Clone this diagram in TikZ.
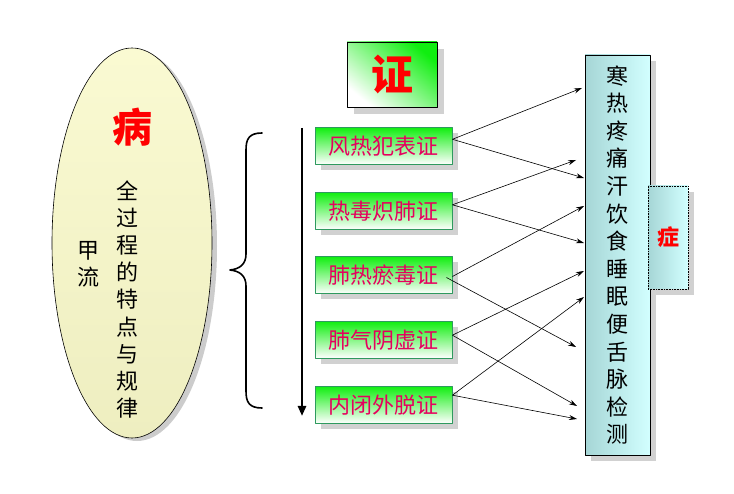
\documentclass[tikz,border=0pt]{standalone}
\usepackage{fontspec}
\setmainfont{Noto Sans CJK SC}
\usetikzlibrary{arrows.meta,shapes.geometric,shadows}

\definecolor{zgreen}{HTML}{10EE10}
\definecolor{boxedge}{HTML}{2E9A5E}
\definecolor{syntext}{HTML}{E6005E}
\definecolor{zred}{HTML}{FF0000}
\definecolor{cyandk}{HTML}{A6D6D6}
\definecolor{cyanlt}{HTML}{D2FFFF}
\definecolor{eggtop}{HTML}{FAFAD2}
\definecolor{eggbot}{HTML}{EEEEC0}

\begin{document}
\begin{tikzpicture}[x=1pt, y=-1pt, line join=round,
  synbox/.style={draw=boxedge, line width=0.8pt, top color=zgreen, bottom color=white,
    minimum width=137pt, minimum height=37pt, inner sep=0pt, text=syntext,
    font=\fontsize{22}{24}\selectfont,
    drop shadow={shadow xshift=6pt, shadow yshift=-6pt, fill=black!18, opacity=1}},
  link/.style={-{Stealth[length=8pt,width=5pt]}, line width=0.6pt}]

  %% ════ 病：椭圆 ════
  \node[ellipse, draw, line width=0.6pt, top color=eggtop, bottom color=eggbot,
        minimum width=160pt, minimum height=390pt, inner sep=0pt,
        drop shadow={shadow xshift=5pt, shadow yshift=-3pt, fill=black!20, opacity=1}]
        (bing) at (132,243) {};
  \node[text=zred, font=\fontsize{40}{42}\selectfont\bfseries] (bingtxt) at (132,127) {病};
  \node[align=center, inner sep=0pt, font=\fontsize{22}{27.2}\selectfont] (course) at (127,299.5)
        {全\\过\\程\\的\\特\\点\\与\\规\\律};
  \node[align=center, inner sep=0pt, font=\fontsize{22}{27}\selectfont] (flu) at (88,264.5) {甲\\流};

  %% ════ 大括号 + 竖箭头 ════
  \draw[line width=1.6pt, line cap=round] (262,133) .. controls (249,133) and (246,139) .. (246,150)
        -- (246,254) .. controls (246,264) and (240,269) .. (230,270)
        .. controls (240,271) and (246,276) .. (246,286)
        -- (246,391) .. controls (246,402) and (249,408) .. (262,408);
  \coordinate (top) at (302,128);
  \coordinate (bot) at (302,416);
  \draw[line width=2.6pt, -{Triangle[length=10pt,width=8pt]}] (top) -- (bot);

  %% ════ 证 ════
  \node[draw, line width=0.8pt, minimum width=90pt, minimum height=65pt, inner sep=0pt,
        top color=zgreen, bottom color=white, shading angle=-40,
        text=zred, font=\fontsize{42}{44}\selectfont\bfseries,
        drop shadow={shadow xshift=7pt, shadow yshift=-7pt, fill=black!18, opacity=1}]
        (zheng) at (392,74.5) {证};

  %% ════ 五个证型 ════
  \node[synbox] (syn1) at (383.5,145.8) {风热犯表证};
  \node[synbox] (syn2) at (383.5,210.8) {热毒炽肺证};
  \node[synbox] (syn3) at (383.5,275.0) {肺热瘀毒证};
  \node[synbox] (syn4) at (383.5,339.7) {肺气阴虚证};
  \node[synbox] (syn5) at (383.5,404.7) {内闭外脱证};

  %% ════ 症状栏 + 症 ════
  \node[draw, line width=0.8pt, minimum width=65pt, minimum height=400pt, inner sep=0pt,
        left color=cyandk, right color=cyanlt, align=center, font=\fontsize{22}{27.6}\selectfont,
        drop shadow={shadow xshift=6pt, shadow yshift=-6pt, fill=black!18, opacity=1}]
        (symp) at (617.5,255) {寒\\热\\疼\\痛\\汗\\饮\\食\\睡\\眠\\便\\舌\\脉\\检\\测};
  \node[draw, line width=0.6pt, densely dotted, minimum width=40pt, minimum height=103pt, inner sep=0pt,
        left color=cyandk, right color=cyanlt, text=zred, font=\fontsize{22}{24}\selectfont\bfseries,
        drop shadow={shadow xshift=6pt, shadow yshift=-6pt, fill=black!18, opacity=1}]
        (zhengtag) at (668,237.5) {症};

  %% ════ 箭头落点 ════
  \coordinate (t1) at (582,88);
  \coordinate (t2) at (584,178);
  \coordinate (t3) at (576,160);
  \coordinate (t4) at (584,243);
  \coordinate (t5) at (584,206);
  \coordinate (t6) at (576,347);
  \coordinate (t7) at (584,271);
  \coordinate (t8) at (577,406);
  \coordinate (t9) at (584,297);
  \coordinate (t10) at (577,419);

  %% ════ 连线 ════
  \draw[link] ([yshift=6.5pt]syn1.east) -- (t1);
  \draw[link] ([yshift=6.5pt]syn1.east) -- (t2);
  \draw[link] ([yshift=6pt]syn2.east) -- (t3);
  \draw[link] ([yshift=6pt]syn2.east) -- (t4);
  \draw[link] ([yshift=-1.5pt]syn3.east) -- (t5);
  \draw[link] ([xshift=-6pt,yshift=-2.5pt]syn3.east) -- (t6);
  \draw[link] ([yshift=4.5pt]syn4.east) -- (t7);
  \draw[link] ([yshift=4.5pt]syn4.east) -- (t8);
  \draw[link] ([yshift=9.5pt]syn5.east) -- (t9);
  \draw[link] ([yshift=9.5pt]syn5.east) -- (t10);

  % 钉死画布
  \pgfresetboundingbox
  \path[use as bounding box] (0,0) rectangle (734,494);
\end{tikzpicture}
\end{document}
